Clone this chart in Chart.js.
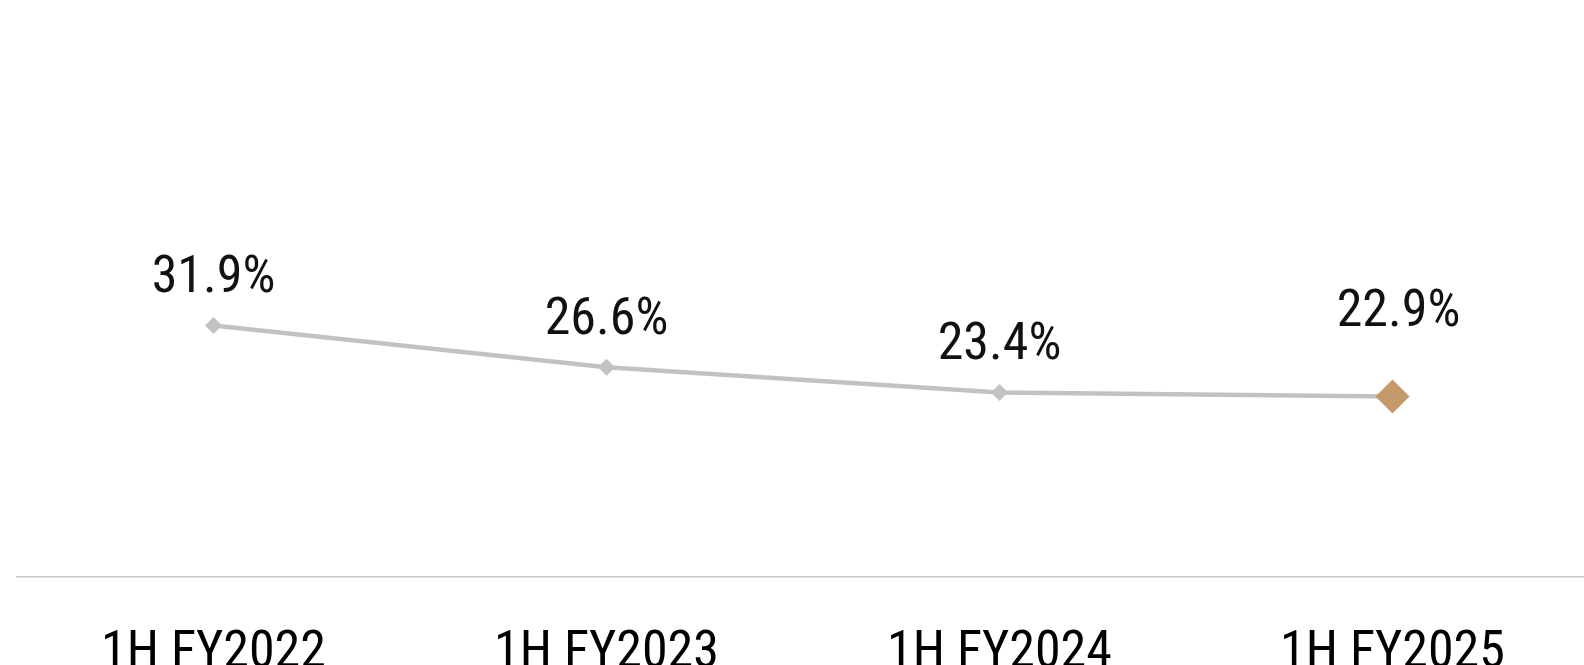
<!DOCTYPE html>
<html>
<head>
<meta charset="utf-8">
<script src="https://cdn.jsdelivr.net/npm/chart.js@4.4.1/dist/chart.umd.min.js"></script>
<style>
  html, body { margin: 0; padding: 0; background: #fff; overflow: hidden; }
  #wrap { width: 1606px; height: 665px; position: relative; }
</style>
</head>
<body>
<div id="wrap"><canvas id="lineChart"></canvas></div>
<script>
const periods = ['1H FY2022', '1H FY2023', '1H FY2024', '1H FY2025'];
const ratios = [31.9, 26.6, 23.4, 22.9];

const fontFamily = "'Roboto Condensed', 'Liberation Sans Narrow', 'DejaVu Sans Condensed', Roboto, sans-serif";

// value labels above each point
const valueLabels = {
    id: 'valueLabels',
    afterDatasetsDraw(chart) {
        const ctx = chart.ctx;
        const meta = chart.getDatasetMeta(0);
        ctx.save();
        ctx.font = '52px ' + fontFamily;
        ctx.fillStyle = '#111';
        ctx.textAlign = 'center';
        ctx.textBaseline = 'alphabetic';
        meta.data.forEach(function(pt, i) {
            const last = i === meta.data.length - 1;
            const gap = last ? 70 : 33;
            ctx.fillText(ratios[i].toFixed(1) + '%', pt.x + (last ? 6 : 0), pt.y - gap);
        });
        ctx.restore();
    }
};

const ctxLine = document.getElementById('lineChart').getContext('2d');
const lineChart = new Chart(ctxLine, {
    type: 'line',
    data: {
        labels: periods,
        datasets: [{
            data: ratios,
            borderColor: '#c2c2c2',
            borderWidth: 4.5,
            tension: 0,
            fill: false,
            pointStyle: 'rectRot',
            pointRadius: [8.5, 8.5, 8.5, 17],
            pointBackgroundColor: ['#c2c2c2', '#c2c2c2', '#c2c2c2', '#c49a6c'],
            pointBorderWidth: 0
        }]
    },
    options: {
        responsive: true,
        maintainAspectRatio: false,
        animation: false,
        layout: { padding: { left: 16, top: 25, right: 0, bottom: 0 } },
        plugins: {
            legend: { display: false },
            tooltip: { enabled: false }
        },
        scales: {
            x: {
                offset: true,
                grid: { display: false, drawTicks: false },
                border: { display: true, color: '#c8c8c8', width: 1.5 },
                ticks: {
                    color: '#000',
                    padding: 46,
                    maxRotation: 0,
                    font: { size: 52, family: fontFamily }
                },
                afterFit(scale) { scale.height = 88; }
            },
            y: {
                display: false,
                min: 0,
                max: 70
            }
        }
    },
    plugins: [valueLabels]
});
</script>
</body>
</html>
